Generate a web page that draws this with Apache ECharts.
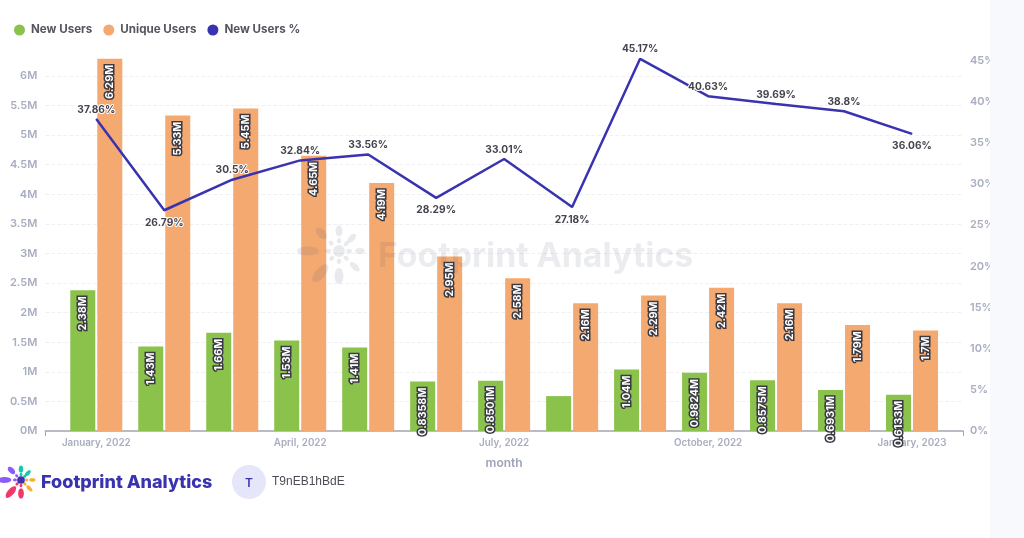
<!DOCTYPE html>
<html><head><meta charset="utf-8">
<style>html,body{margin:0;padding:0;background:#fff}#c{width:1024px;height:538px}</style>
<script src="https://cdn.jsdelivr.net/npm/echarts@6/dist/echarts.min.js"></script>
</head><body><div id="c"></div>
<script>
const months = ['January, 2022','February, 2022','March, 2022','April, 2022','May, 2022','June, 2022','July, 2022','August, 2022','September, 2022','October, 2022','November, 2022','December, 2022','January, 2023'];
const newUsers = [2.38,1.43,1.66,1.53,1.41,0.8358,0.8501,0.59,1.04,0.9824,0.8575,0.6931,0.6133];
const uniqueUsers = [6.29,5.33,5.45,4.65,4.19,2.95,2.58,2.16,2.29,2.42,2.16,1.79,1.7];
const newUsersPct = [37.86,26.79,30.5,32.84,33.56,28.29,33.01,27.18,45.17,40.63,39.69,38.8,36.06];
const pctLabelBelow = [1,7,5,12];
const unlabelledNew = [7];

const FONT = 'Inter, "Noto Sans", sans-serif';
const petals = [
  [180,16.8,6,2.4,'#8b5cf6'],[225,13.5,3.8,2.2,'#8b5cf6'],[270,10.8,3,1.9,'#14c8a8'],[315,9.7,3,1.6,'#14c8a8'],
  [0,11.3,2.7,1.6,'#f9b233'],[45,12,3.3,1.6,'#f9b233'],[90,13.5,4.3,2.4,'#f0386b'],[130,15.7,6,2.7,'#f0386b'],
  [180,6,1.7,1.2,'#8b5cf6'],[225,6,1.5,1.2,'#8b5cf6'],[270,5.5,1.5,1.2,'#14c8a8'],[315,5.5,1.5,1.2,'#14c8a8'],
  [0,5.5,1.5,1.2,'#f9b233'],[45,5.5,1.5,1.2,'#f9b233'],[90,5.5,1.5,1.2,'#f0386b'],[135,5.5,1.5,1.2,'#f0386b']
];
function flower(cx, cy, s, z, forced, fat){
  const out = petals.map(p=>{
    const a = p[0]*Math.PI/180;
    return {type:'ellipse', z:z, silent:true,
      x:cx+Math.cos(a)*p[1]*s, y:cy+Math.sin(a)*p[1]*s, rotation:-a,
      shape:{cx:0,cy:0,rx:p[2]*s*fat,ry:p[3]*s*fat}, style:{fill:forced||p[4]}};
  });
  out.push({type:'circle',z:z,silent:true,shape:{cx:cx,cy:cy,r:3.2*s*fat},style:{fill:forced||'#3a33b0'}});
  return out;
}
const WM = 'rgba(70,85,110,0.12)';
const outline = {color:'#fff',textBorderColor:'#3a3a44',textBorderWidth:3,fontFamily:FONT,fontSize:10.8,fontWeight:700};
const chart = echarts.init(document.getElementById('c'),null,{renderer:'canvas'});
function barLabel(v){return v.value[1]+'M';}
chart.setOption({
  animation:false,
  backgroundColor:'#fff',
  legend:{left:9,top:19,icon:'circle',itemWidth:11,itemHeight:11,itemGap:11,
    textStyle:{color:'#55555f',fontSize:11.6,fontWeight:700,fontFamily:FONT,padding:[0,0,0,1]},
    data:['New Users','Unique Users','New Users %']},
  grid:{left:45.3,right:61,top:58.8,bottom:107},
  xAxis:{type:'value',min:-0.75,max:12.75,interval:0.75,name:'month',nameLocation:'middle',nameGap:26,
    nameTextStyle:{color:'#9ea3b5',fontSize:12,fontWeight:600,fontFamily:FONT},
    splitLine:{show:false},
    axisLine:{show:true,onZero:false,lineStyle:{color:'#a3a6b2',width:1.5}},
    axisTick:{show:true,customValues:[-0.75,12.75],length:5,lineStyle:{color:'#a3a6b2'}},
    axisLabel:{customValues:[0,3,6,9,12],margin:7,color:'#a8adc0',fontSize:9.8,fontWeight:600,fontFamily:FONT,
      formatter:v=>months[Math.round(v)]||''}},
  yAxis:[
    {type:'value',min:0,max:6.29,interval:0.5,
      axisLine:{show:false},axisTick:{show:false},
      axisLabel:{showMaxLabel:false,margin:8,color:'#a8adc0',fontSize:11,fontWeight:600,fontFamily:FONT,formatter:v=>v+'M'},
      splitLine:{show:true,showMaxLine:false,showMinLine:false,lineStyle:{type:'dashed',color:'#eff0f3'}}},
    {type:'value',min:0,max:45.17,interval:5,position:'right',
      axisLine:{show:false},axisTick:{show:false},splitLine:{show:false},
      axisLabel:{showMaxLabel:false,margin:7,color:'#a8adc0',fontSize:11,fontWeight:600,fontFamily:FONT,formatter:v=>v+'%'}}
  ],
  series:[
    {name:'New Users',type:'bar',barWidth:25,barGap:'8%',itemStyle:{color:'#8bc24c'},
      data:newUsers.map((v,i)=>({value:[i,v],label:{show:!unlabelledNew.includes(i)}})),
      label:Object.assign({show:true,position:'insideTop',rotate:90,align:'right',verticalAlign:'middle',distance:6,formatter:barLabel},outline)},
    {name:'Unique Users',type:'bar',barWidth:25,barGap:'8%',itemStyle:{color:'#f4a971'},
      data:uniqueUsers.map((v,i)=>[i,v]),
      label:Object.assign({show:true,position:'insideTop',rotate:90,align:'right',verticalAlign:'middle',distance:6,formatter:barLabel},outline)},
    {name:'New Users %',type:'line',yAxisIndex:1,z:5,symbol:'circle',symbolSize:1,
      lineStyle:{color:'#3a33b0',width:2.5},itemStyle:{color:'#3a33b0'},
      data:newUsersPct.map((v,i)=>({value:[i,v],label:{position:pctLabelBelow.includes(i)?'bottom':'top',distance:pctLabelBelow.includes(i)?7:4}})),
      label:{show:true,color:'#44444f',fontSize:10.2,fontWeight:700,fontFamily:FONT,
        textBorderColor:'#fff',textBorderWidth:2,formatter:p=>p.value[1]+'%'}}
  ],
  graphic:[
    {type:'rect',z:100,silent:true,shape:{x:990,y:0,width:34,height:538},style:{fill:'#f8f9fc'}},
    ...flower(339,251,1.85,50,WM,1),
    {type:'text',z:50,silent:true,x:378,y:257,style:{text:'Footprint Analytics',font:'700 33.8px '+FONT,fill:'rgba(70,85,110,0.11)',textVerticalAlign:'middle'}},
    ...flower(21,480,1,1,null,1.2),
    {type:'text',z:1,silent:true,x:41,y:483,style:{text:'Footprint Analytics',font:'800 18px '+FONT,fill:'#3a33b0',textVerticalAlign:'middle'}},
    {type:'circle',z:1,silent:true,shape:{cx:249,cy:482,r:17},style:{fill:'#e6e6fb'}},
    {type:'text',z:2,silent:true,x:249,y:483,style:{text:'T',font:'600 12px '+FONT,fill:'#3a33b0',textAlign:'center',textVerticalAlign:'middle'}},
    {type:'text',z:1,silent:true,x:272,y:482,style:{text:'T9nEB1hBdE',font:'400 12px "Liberation Sans", sans-serif',fill:'#4d4d57',textVerticalAlign:'middle'}}
  ]
});
</script></body></html>
